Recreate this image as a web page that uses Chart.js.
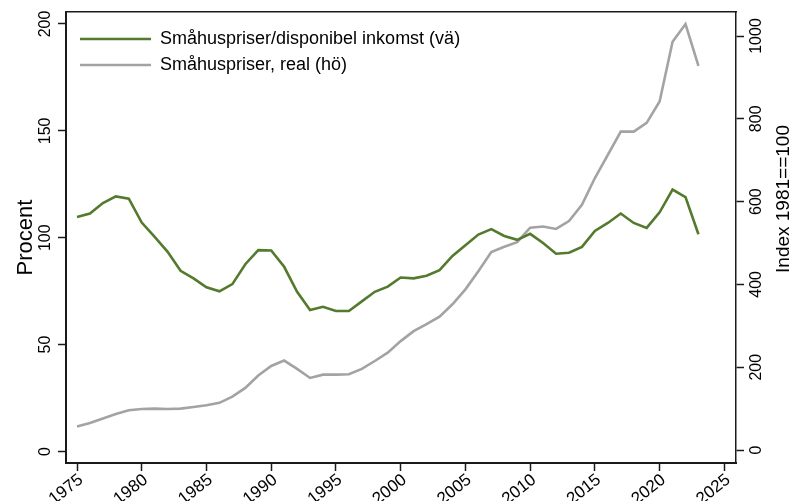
<!DOCTYPE html>
<html><head><meta charset="utf-8">
<script src="https://cdn.jsdelivr.net/npm/chart.js@4"></script>
<style>html,body{margin:0;padding:0;background:#fff;overflow:hidden}#wrap{width:791px;height:501px}</style>
</head><body><div id="wrap"><canvas id="c" width="791" height="501"></canvas></div>
<script>
const years = [1975,1976,1977,1978,1979,1980,1981,1982,1983,1984,1985,1986,1987,1988,1989,1990,1991,1992,1993,1994,1995,1996,1997,1998,1999,2000,2001,2002,2003,2004,2005,2006,2007,2008,2009,2010,2011,2012,2013,2014,2015,2016,2017,2018,2019,2020,2021,2022,2023];
const priceIncomeRatio = [109.7,111.3,116.2,119.3,118.3,107.1,100.4,93.4,84.5,81.0,76.8,74.9,78.3,87.6,94.2,94.0,86.4,74.7,66.2,67.7,65.7,65.7,70.2,74.7,77.1,81.4,81.0,82.2,84.8,91.5,96.5,101.5,104.0,100.8,99.0,101.8,97.5,92.5,93.0,95.7,103.2,106.9,111.3,106.9,104.6,111.9,122.5,119.0,101.6];
const realPriceIndex = [57,65,76,87,96,99,100,99,100,104,108,114,129,150,180,203,216,196,174,182,182,183,196,215,235,263,287,304,322,352,388,432,478,491,502,537,540,534,553,592,657,713,769,769,790,842,986,1029,928];
const xTickValues = [1975,1980,1985,1990,1995,2000,2005,2010,2015,2020,2025];
const leftTickValues = [0,50,100,150,200];
const rightTickValues = [0,200,400,600,800,1000];
const seriesNames = ['Småhuspriser/disponibel inkomst (vä)','Småhuspriser, real (hö)'];
const leftTitle = 'Procent';
const rightTitle = 'Index 1981==100';

const FONT = "'Liberation Sans', Arial, Helvetica, sans-serif";
const GREEN = '#537a2d';
const GRAY = '#a3a3a3';
const FRAME = '#1a1a1a';

const toPts = (vals) => years.map((y, i) => ({x: y, y: vals[i]}));
const setTicks = (vals) => (scale) => { scale.ticks = vals.map(v => ({value: v})); };
const fixW = (w) => (scale) => { scale.width = w; scale.paddingTop = 0; scale.paddingBottom = 0; };
const fixH = (h) => (scale) => { scale.height = h; scale.paddingLeft = 0; scale.paddingRight = 0; };
const plain = (v) => String(v);

const extrasPlugin = {
  id: 'extras',
  afterLayout(chart) {
    const lg = chart.legend;
    if (lg) { lg.left += 6; lg.top += 22; }
  },
  afterDraw(chart) {
    const ctx = chart.ctx;
    ctx.save();
    ctx.translate(784, 199);
    ctx.rotate(-Math.PI / 2);
    ctx.font = "19px " + FONT;
    ctx.fillStyle = '#000';
    ctx.textAlign = 'center';
    ctx.textBaseline = 'middle';
    ctx.fillText(rightTitle, 0, 0);
    ctx.restore();
  }
};

new Chart(document.getElementById('c'), {
  type: 'line',
  data: {
    datasets: [
      {label: seriesNames[0], data: toPts(priceIncomeRatio), yAxisID: 'y', borderColor: GREEN, backgroundColor: GREEN, borderWidth: 2.6, pointRadius: 0, tension: 0, fill: false},
      {label: seriesNames[1], data: toPts(realPriceIndex), yAxisID: 'y1', borderColor: GRAY, backgroundColor: GRAY, borderWidth: 2.6, pointRadius: 0, tension: 0, fill: false}
    ]
  },
  options: {
    responsive: false,
    animation: false,
    devicePixelRatio: 1,
    layout: {padding: 0},
    plugins: {
      tooltip: {enabled: false},
      legend: {
        position: 'chartArea',
        align: 'start',
        labels: {boxWidth: 71, boxHeight: 0, padding: 8, color: '#000', font: {family: FONT, size: 18}}
      }
    },
    scales: {
      x: {
        type: 'linear', position: 'bottom', min: 1974.15, max: 2025.9,
        afterBuildTicks: setTicks(xTickValues), afterFit: fixH(38),
        grid: {drawOnChartArea: false, drawTicks: true, tickLength: 8, tickColor: FRAME, tickWidth: 1.5},
        border: {display: true, color: FRAME, width: 2},
        ticks: {autoSkip: false, minRotation: 38, maxRotation: 38, padding: -1, labelOffset: 4, color: '#000', font: {family: FONT, size: 17}, callback: plain}
      },
      xTop: {
        type: 'linear', position: 'top', min: 1974.15, max: 2025.9,
        afterFit: fixH(12),
        grid: {drawOnChartArea: false, drawTicks: false},
        border: {display: true, color: FRAME, width: 1.5},
        ticks: {display: false}
      },
      y: {
        type: 'linear', position: 'left', min: -5.4, max: 205.6,
        afterBuildTicks: setTicks(leftTickValues), afterFit: fixW(66),
        grid: {drawOnChartArea: false, drawTicks: true, tickLength: 8, tickColor: FRAME, tickWidth: 1.5},
        border: {display: true, color: FRAME, width: 2},
        ticks: {minRotation: 90, maxRotation: 90, crossAlign: 'center', padding: -1, color: '#000', font: {family: FONT, size: 16}, callback: plain},
        title: {display: true, text: leftTitle, color: '#000', font: {family: FONT, size: 22, lineHeight: 1.2}, padding: {top: 13, bottom: 0}}
      },
      y1: {
        type: 'linear', position: 'right', min: -31.4, max: 1058,
        afterBuildTicks: setTicks(rightTickValues), afterFit: fixW(55),
        grid: {drawOnChartArea: false, drawTicks: true, tickLength: 8, tickColor: FRAME, tickWidth: 1.5},
        border: {display: true, color: FRAME, width: 1.5},
        ticks: {minRotation: 90, maxRotation: 90, crossAlign: 'center', padding: -5, color: '#000', font: {family: FONT, size: 16}, callback: plain}
      }
    }
  },
  plugins: [extrasPlugin]
});
</script>
</body></html>
